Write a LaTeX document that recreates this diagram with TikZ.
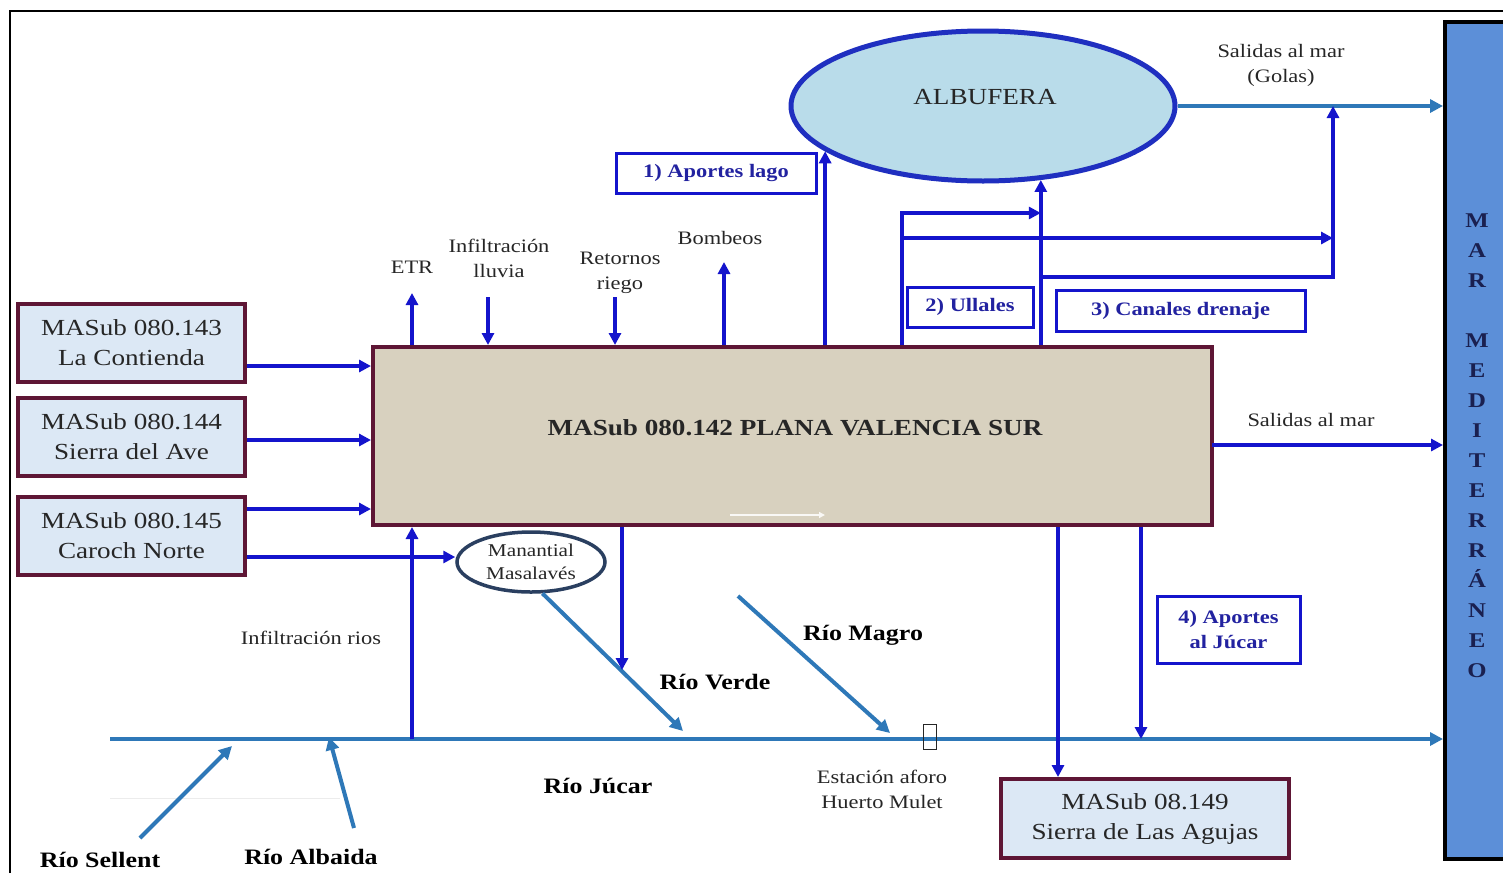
\documentclass[tikz,border=0pt]{standalone}
\usepackage{fontspec}
\setmainfont{Liberation Serif}[FakeStretch=1.18]
\usetikzlibrary{arrows.meta,shapes.geometric,calc}
\definecolor{maroon}{HTML}{5E1635}
\definecolor{boxblue}{HTML}{DCE8F5}
\definecolor{beige}{HTML}{D8D1BF}
\definecolor{flow}{HTML}{1414CC}
\definecolor{river}{HTML}{2E78B8}
\definecolor{lake}{HTML}{B9DCEA}
\definecolor{lakeline}{HTML}{1F2FC0}
\definecolor{sea}{HTML}{5C8FD8}
\definecolor{seatext}{HTML}{1A2050}
\definecolor{labelblue}{HTML}{2222A0}
\definecolor{ink}{HTML}{262626}
\definecolor{springline}{HTML}{2A3F60}
\begin{document}
\begin{tikzpicture}[x=1pt,y=-1pt,
  masub/.style={draw=maroon,line width=4pt,fill=boxblue,minimum width=227pt,minimum height=78pt,align=center,text=ink,font=\fontsize{23}{30}\selectfont,inner sep=0pt},
  lbl/.style={align=center,text=ink,font=\fontsize{19}{25}\selectfont,inner sep=1pt},
  rio/.style={align=center,text=black,font=\bfseries\fontsize{22}{26}\selectfont,inner sep=1pt},
  flowbox/.style={draw=flow,line width=3pt,fill=white,align=center,text=labelblue,font=\bfseries\fontsize{19}{25}\selectfont,inner sep=0pt},
  arr/.style={draw=flow,line width=3.5pt,-{Triangle[length=12pt,width=12pt]}},
  riv/.style={draw=river,line width=4pt,-{Triangle[length=13pt,width=13pt]}},
]
\useasboundingbox (0,0) rectangle (1503,873);
\fill[white] (0,0) rectangle (1503,873);
% frame
\draw[line width=1.5pt,black] (10,873) -- (10,11) -- (1503,11);
% sea
\node[draw=black,line width=4pt,fill=sea,minimum width=70pt,minimum height=837pt,inner sep=0pt,anchor=north west] (sea) at (1443,20) {};
\node[font=\bfseries\fontsize{21}{30}\selectfont,text=seatext,align=center,inner sep=0pt] (mar) at (1477,445.5) {M\\A\\R\\[30pt]M\\E\\D\\I\\T\\E\\R\\R\\Á\\N\\E\\O};
% main aquifer
\node[draw=maroon,line width=4pt,fill=beige,minimum width=839pt,minimum height=178pt,inner sep=0pt] (main) at (792.5,436) {};
\node[font=\bfseries\fontsize{23}{28}\selectfont,text=ink] (mainlbl) at (795,428) {MASub 080.142 PLANA VALENCIA SUR};
\draw[white!85!beige,line width=2pt,-{Triangle[length=6pt,width=6pt]}] (730,515) -- (825,515);
% side aquifers
\node[masub] (m143) at (131.5,343) {MASub 080.143\\La Contienda};
\node[masub] (m144) at (131.5,436.5) {MASub 080.144\\Sierra del Ave};
\node[masub] (m145) at (131.5,535.5) {MASub 080.145\\Caroch Norte};
\node[masub,minimum width=288pt,minimum height=79pt] (m149) at (1145,818.5) {MASub 08.149\\Sierra de Las Agujas};
% lake
\node[ellipse,draw=lakeline,line width=5pt,fill=lake,minimum width=384pt,minimum height=150pt,inner sep=0pt] (alb) at (983,106) {};
\node[font=\fontsize{23}{28}\selectfont,text=ink] (albl) at (985,97) {ALBUFERA};
% spring
\node[ellipse,draw=springline,line width=3.5pt,fill=white,minimum width=148pt,minimum height=60pt,inner sep=0pt,align=center,font=\fontsize{18}{23}\selectfont,text=ink] (mana) at (531,562) {Manantial\\Masalavés};
% flow boxes
\node[flowbox,minimum width=200pt,minimum height=40pt] (lago) at (716,173) {1) Aportes lago};
\node[flowbox,minimum width=126pt,minimum height=40pt] (ull) at (970,307) {2) Ullales};
\node[flowbox,minimum width=249pt,minimum height=41pt] (can) at (1180.5,310.5) {3) Canales drenaje};
\node[flowbox,minimum width=143pt,minimum height=67pt] (apj) at (1228.5,629.5) {4) Aportes\\al Júcar};
% labels
\node[lbl] (etr) at (412,267) {ETR};
\node[lbl] (lluv) at (499,258) {Infiltración\\lluvia};
\node[lbl] (ret) at (620,273) {Retornos\\riego};
\node[lbl] (bomb) at (720,238) {Bombeos};
\node[lbl] (golas) at (1281,65) {Salidas al mar\\(Golas)};
\node[lbl] (salm) at (1311,420) {Salidas al mar};
\node[lbl] (infr) at (311,638) {Infiltración rios};
\node[lbl] (est) at (882,789) {Estación aforo\\Huerto Mulet};
\node[rio] (verde) at (715,682) {Río Verde};
\node[rio] (magro) at (863,635) {Río Magro};
\node[rio] (jucar) at (598,786) {Río Júcar};
\node[rio] (sellent) at (100,860) {Río Sellent};
\node[rio] (albaida) at (311,857) {Río Albaida};
% coordinates
\coordinate (etrTip) at (412,293);
\coordinate (lluvTop) at (488,297);
\coordinate (retTop) at (615,297);
\coordinate (bombTip) at (724,262);
\coordinate (lagoTip) at (alb.196);
\coordinate (albS) at (alb.308);
\coordinate (ullL) at (902,213);
\coordinate (h2) at (902,238);
\coordinate (h3) at (1040,277);
\coordinate (colR) at (1333,106);
\coordinate (sm) at (1212,445);
\coordinate (a143) at (0,366);
\coordinate (a144) at (0,440);
\coordinate (a145) at (0,509);
\coordinate (a145b) at (0,557);
\coordinate (jw) at (110,739);
\coordinate (b1) at (1058,0);
\coordinate (b2) at (1141,0);
\coordinate (vv) at (622,670);
\coordinate (verdeE) at (683,731);
\coordinate (magroS) at (738,596);
\coordinate (magroE) at (890,733);
\coordinate (sellS) at (140,838);
\coordinate (sellE) at (232,746);
\coordinate (albaS) at (354,828);
\coordinate (albaE) at (329,737);
% rivers
\draw[gray!15,line width=1pt] (110,798) -- (340,798);
\draw[riv] (jw) -- (jw -| sea.west);
\draw[riv] (alb.east) -- (alb.east -| sea.west);
\draw[riv] (mana.290) -- (verdeE);
\draw[riv] (magroS) -- (magroE);
\draw[riv] (sellS) -- (sellE);
\draw[riv] (albaS) -- (albaE);
\node[draw=ink,line width=1pt,minimum width=13pt,minimum height=25pt,inner sep=0pt] (gauge) at (929.5,736.5) {};
% top flows
\draw[arr] (etrTip |- main.north) -- (etrTip);
\draw[arr] (lluvTop) -- (lluvTop |- main.north);
\draw[arr] (retTop) -- (retTop |- main.north);
\draw[arr] (bombTip |- main.north) -- (bombTip);
\draw[arr] (lagoTip |- main.north) -- (lagoTip);
\draw[arr] (albS |- main.north) -- (albS);
\draw[arr,line join=miter] (ullL |- main.north) -- (ullL) -- (ullL -| albS);
\draw[arr] (h2) -- (h2 -| colR);
\draw[arr,line join=miter] (h3) -- (h3 -| colR) -- (colR);
% side flows
\draw[arr] (m143.east |- a143) -- (a143 -| main.west);
\draw[arr] (m144.east |- a144) -- (a144 -| main.west);
\draw[arr] (m145.east |- a145) -- (a145 -| main.west);
\draw[arr] (m145.east |- a145b) -- (a145b -| mana.west);
\draw[arr] (sm) -- (sm -| sea.west);
% bottom flows
\draw[arr] (etr |- jw) -- (etr |- main.south);
\draw[arr] (b1 |- main.south) -- (b1 |- m149.north);
\draw[arr] (b2 |- main.south) -- (b2 |- jw);
\draw[arr] (vv |- main.south) -- (vv);
\end{tikzpicture}
\end{document}
